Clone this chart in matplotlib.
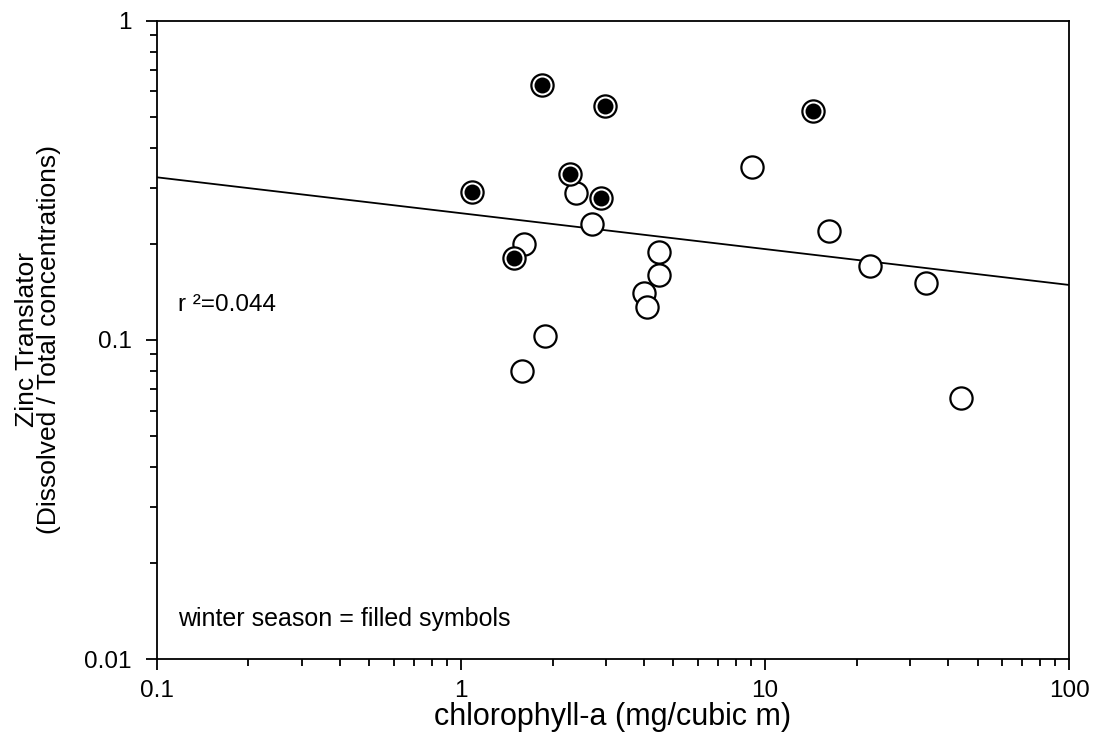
import matplotlib
matplotlib.use("Agg")
import matplotlib.pyplot as plt
from matplotlib.ticker import FixedLocator, LogLocator, NullFormatter, FuncFormatter

plt.rcParams["font.family"] = ["Liberation Sans", "DejaVu Sans"]

# summer samples (open symbols)
chl_summer = [2.39, 2.70, 1.61, 9.06, 16.2, 4.48, 4.48, 4.0, 4.09, 22.1, 33.8, 1.89, 1.585, 44.1]
zn_summer = [0.288, 0.23, 0.199, 0.347, 0.22, 0.189, 0.16, 0.14, 0.127, 0.17, 0.151, 0.1025, 0.0797, 0.0656]

# winter samples (filled symbols)
chl_winter = [1.85, 2.98, 14.4, 2.28, 1.09, 2.89, 1.49]
zn_winter = [0.63, 0.542, 0.522, 0.33, 0.29, 0.279, 0.18]

# regression line end points
fit_x = [0.1, 100]
fit_y = [0.323, 0.1486]
r_squared = 0.044

fig = plt.figure(figsize=(10.97, 7.38), dpi=100)
ax = fig.add_axes([0.1431, 0.1070, 0.8314, 0.8650])

ax.plot(fit_x, fit_y, color="black", lw=1.3, zorder=2)

ax.plot(chl_summer, zn_summer, "o", ms=16, mfc="white", mec="black", mew=1.6,
        linestyle="none", zorder=3)
ax.plot(chl_winter, zn_winter, "o", ms=16, mfc="white", mec="black", mew=1.6,
        linestyle="none", zorder=4)
ax.plot(chl_winter, zn_winter, "o", ms=11.5, mfc="black", mec="black", mew=0,
        linestyle="none", zorder=5)

ax.set_xscale("log")
ax.set_yscale("log")
ax.set_xlim(0.1, 100)
ax.set_ylim(0.01, 1)

fmt = FuncFormatter(lambda v, p: f"{v:g}")
ax.xaxis.set_major_locator(FixedLocator([0.1, 1, 10, 100]))
ax.yaxis.set_major_locator(FixedLocator([0.01, 0.1, 1]))
ax.xaxis.set_major_formatter(fmt)
ax.yaxis.set_major_formatter(fmt)
ax.xaxis.set_minor_locator(LogLocator(base=10, subs=range(2, 10), numticks=20))
ax.yaxis.set_minor_locator(LogLocator(base=10, subs=range(2, 10), numticks=20))
ax.xaxis.set_minor_formatter(NullFormatter())
ax.yaxis.set_minor_formatter(NullFormatter())

ax.tick_params(which="both", direction="out", top=False, right=False, width=1.3,
               labelsize=17.5)
ax.tick_params(axis="x", which="major", length=8, pad=7)
ax.tick_params(axis="y", which="major", length=8, pad=10)
ax.tick_params(which="minor", length=5)
for s in ax.spines.values():
    s.set_linewidth(1.3)

ax.set_xlabel("chlorophyll-a (mg/cubic m)", fontsize=22)
ax.xaxis.set_label_coords(0.5, -0.1034)
ax.xaxis.label.set_va("baseline")
ax.set_ylabel("Zinc Translator\n(Dissolved / Total concentrations)", fontsize=19,
              linespacing=0.92)
ax.yaxis.set_label_coords(-0.105, 0.5)

ax.text(0.023, 0.555, f"r \u00b2={r_squared}", transform=ax.transAxes, fontsize=17.5,
        va="center", ha="left")
ax.text(0.023, 0.063, "winter season = filled symbols", transform=ax.transAxes,
        fontsize=18, va="center", ha="left")

fig.savefig("out.png", dpi=100, facecolor="white")
